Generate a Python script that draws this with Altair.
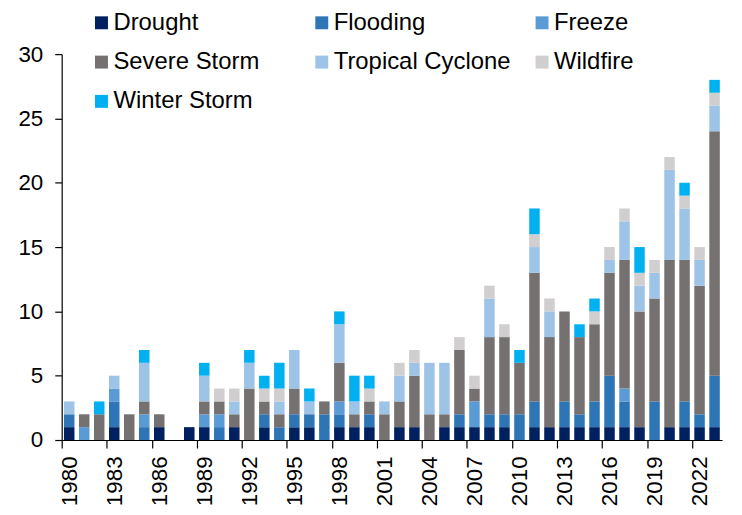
import altair as alt
import pandas as pd

years = list(range(1980, 2024))
categories = ["Drought", "Flooding", "Freeze", "Severe Storm",
              "Tropical Cyclone", "Wildfire", "Winter Storm"]
colors = ["#002060", "#2E75B6", "#5B9BD5", "#767171",
          "#9DC3E6", "#D0CECE", "#00B0F0"]

drought  = [1,0,0,1,0,0,1,0,1,1, 0,1,0,1,0,1,1,0,1,1, 1,0,1,1,0,1,1,1,1,1, 0,1,1,1,1,1,1,1,1,0, 1,1,1,1]
flooding = [1,0,0,2,0,1,0,0,0,0, 1,0,0,1,1,1,1,2,1,0, 1,0,0,0,0,0,1,0,1,1, 2,2,0,2,1,2,4,2,0,3, 0,2,1,4]
freeze   = [0,1,0,1,0,1,0,0,0,1, 1,0,0,0,0,0,0,0,1,0, 0,0,0,0,0,0,0,2,0,0, 0,0,0,0,0,0,0,1,0,0, 0,0,0,0]
severe   = [0,1,2,0,2,1,1,0,0,1, 1,1,4,1,1,2,0,1,3,1, 1,2,2,4,2,1,5,1,6,6, 4,10,7,7,6,6,8,10,9,8, 13,11,10,19]
tropical = [1,0,0,1,0,3,0,0,0,2, 0,1,2,0,1,3,1,0,3,1, 0,1,2,1,4,4,0,0,3,0, 0,2,2,0,0,0,1,3,2,2, 7,4,2,2]
wildfire = [0,0,0,0,0,0,0,0,0,0, 1,1,0,1,1,0,0,0,0,0, 1,0,1,1,0,0,1,1,1,1, 0,1,1,0,0,1,1,1,1,1, 1,1,1,1]
winter   = [0,0,1,0,0,1,0,0,0,1, 0,0,1,1,2,0,1,0,1,2, 1,0,0,0,0,0,0,0,0,0, 1,2,0,0,1,1,0,0,2,0, 0,1,0,1]

x_tick_labels = list(range(1980, 2023, 3))
y_tick_values = [0, 5, 10, 15, 20, 25, 30]

series = [drought, flooding, freeze, severe, tropical, wildfire, winter]
rows = []
for ci, (cat, vals) in enumerate(zip(categories, series)):
    for y, v in zip(years, vals):
        rows.append({"year": y, "type": cat, "count": v, "order": ci})
df = pd.DataFrame(rows)

W = 664
H = 388
step = W / len(years)
FONT = "Liberation Sans"

chart = alt.Chart(df).mark_bar().encode(
    x=alt.X("year:O", title="",
            scale=alt.Scale(domain=years, paddingInner=0.3, paddingOuter=0.15),
            axis=alt.Axis(values=x_tick_labels, labelAngle=270, labelFontSize=22.5,
                          labelColor="black", domainColor="black", tickColor="black",
                          tickSize=8, labelPadding=8, domainWidth=1.2, tickWidth=1.2,
                          tickOffset=-step / 2, labelOffset=step / 2, grid=False)),
    y=alt.Y("count:Q", stack="zero", title="",
            scale=alt.Scale(domain=[0, 30], nice=False),
            axis=alt.Axis(values=y_tick_values, labelFontSize=22.5, labelColor="black",
                          domainColor="black", tickColor="black", tickSize=7,
                          labelPadding=12, domainWidth=1.2, tickWidth=1.2, grid=False)),
    color=alt.Color("type:N", title="",
                    scale=alt.Scale(domain=categories, range=colors),
                    legend=alt.Legend(orient="none", direction="horizontal",
                                      legendX=28, legendY=-43.5,
                                      columns=3, gridAlign="all", columnPadding=19.5,
                                      rowPadding=15.5, symbolType="square",
                                      symbolSize=169, symbolStrokeWidth=0,
                                      labelFontSize=24, labelColor="black",
                                      labelOffset=0, padding=0, labelLimit=400)),
    order=alt.Order("order:Q", sort="ascending"),
).properties(
    width=W, height=H,
    autosize=alt.AutoSizeParams(type="none"),
    padding={"left": 54, "top": 45, "right": 12, "bottom": 70},
).configure(
    font=FONT,
).configure_view(
    stroke=None
)

chart.save("out.html", embed_options={"renderer": "svg", "actions": False})
